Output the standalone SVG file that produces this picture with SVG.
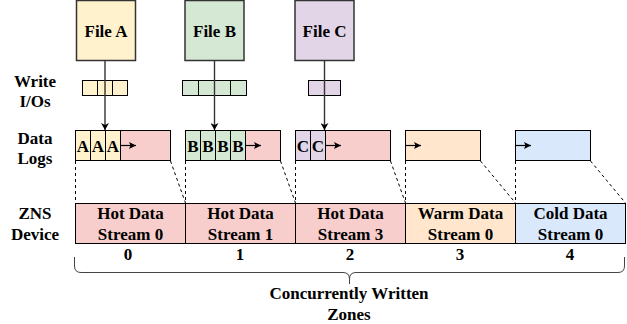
<svg xmlns="http://www.w3.org/2000/svg" width="627" height="324" viewBox="0 0 627 324">
  <style>
    text { font-family: "Liberation Serif", "Times New Roman", serif; font-weight: bold; font-size: 17px; fill: #000; text-anchor: middle; }
    .cell { stroke: #000; stroke-width: 1; }
    .file { stroke: #333; stroke-width: 1.5; }
    .ya { fill: #fff2cc; } .gr { fill: #d5e8d4; } .pu { fill: #e1d5e7; }
    .pk { fill: #f8cecc; } .or { fill: #ffe6cc; } .bl { fill: #dae8fc; }
    .dash { stroke: #000; stroke-width: 1; stroke-dasharray: 3 3; fill: none; }
    .flow { stroke: #333; stroke-width: 1.4; fill: none; }
    .push { stroke: #000; stroke-width: 1.2; fill: none; }
  </style>
  <defs>
    <marker id="head" markerWidth="8" markerHeight="8" refX="7" refY="4" orient="auto" markerUnits="userSpaceOnUse">
      <path d="M0,0 L7,4 L0,8 L2,4 Z" fill="#000"/>
    </marker>
    <marker id="small" markerWidth="8" markerHeight="8" refX="7" refY="4" orient="auto" markerUnits="userSpaceOnUse">
      <path d="M0,0.5 L7,4 L0,7.5 L1.5,4 Z" fill="#000"/>
    </marker>
  </defs>

  <!-- row labels -->
  <g id="row-labels">
    <text x="35" y="87">Write</text>
    <text x="35" y="107">I/Os</text>
    <text x="35" y="144">Data</text>
    <text x="35" y="164">Logs</text>
    <text x="35" y="219">ZNS</text>
    <text x="35" y="240">Device</text>
  </g>

  <!-- files -->
  <g id="file-a">
    <rect class="file ya" x="76.5" y="0.5" width="59" height="60"/>
    <text x="106" y="37">File A</text>
  </g>
  <g id="file-b">
    <rect class="file gr" x="185" y="0.5" width="59" height="60"/>
    <text x="214.5" y="37">File B</text>
  </g>
  <g id="file-c">
    <rect class="file pu" x="295" y="0.5" width="59" height="60"/>
    <text x="324.5" y="37">File C</text>
  </g>

  <!-- write I/Os -->
  <g id="writes-a">
    <rect class="cell ya" x="82.5" y="80.5" width="15" height="15"/>
    <rect class="cell ya" x="97.5" y="80.5" width="15" height="15"/>
    <rect class="cell ya" x="112.5" y="80.5" width="15" height="15"/>
  </g>
  <g id="writes-b">
    <rect class="cell gr" x="182.5" y="80.5" width="16" height="15"/>
    <rect class="cell gr" x="198.5" y="80.5" width="16" height="15"/>
    <rect class="cell gr" x="214.5" y="80.5" width="16" height="15"/>
    <rect class="cell gr" x="230.5" y="80.5" width="16" height="15"/>
  </g>
  <g id="writes-c">
    <rect class="cell pu" x="308.5" y="80.5" width="16" height="15"/>
    <rect class="cell pu" x="324.5" y="80.5" width="16" height="15"/>
  </g>

  <!-- data logs -->
  <g id="log-a">
    <rect class="cell pk" x="75.5" y="130.5" width="95" height="30"/>
    <rect class="cell ya" x="75.5" y="130.5" width="15" height="30"/>
    <rect class="cell ya" x="90.5" y="130.5" width="15" height="30"/>
    <rect class="cell ya" x="105.5" y="130.5" width="15" height="30"/>
    <text x="83" y="152">A</text>
    <text x="98" y="152">A</text>
    <text x="113" y="152">A</text>
    <line class="push" x1="120.5" y1="145.5" x2="136" y2="145.5" marker-end="url(#small)"/>
  </g>
  <g id="log-b">
    <rect class="cell pk" x="185.5" y="130.5" width="95" height="30"/>
    <rect class="cell gr" x="185.5" y="130.5" width="15" height="30"/>
    <rect class="cell gr" x="200.5" y="130.5" width="15" height="30"/>
    <rect class="cell gr" x="215.5" y="130.5" width="15" height="30"/>
    <rect class="cell gr" x="230.5" y="130.5" width="15" height="30"/>
    <text x="193" y="152">B</text>
    <text x="208" y="152">B</text>
    <text x="223" y="152">B</text>
    <text x="238" y="152">B</text>
    <line class="push" x1="245.5" y1="145.5" x2="261" y2="145.5" marker-end="url(#small)"/>
  </g>
  <g id="log-c">
    <rect class="cell pk" x="295.5" y="130.5" width="95" height="30"/>
    <rect class="cell pu" x="295.5" y="130.5" width="15" height="30"/>
    <rect class="cell pu" x="310.5" y="130.5" width="15" height="30"/>
    <text x="303" y="152">C</text>
    <text x="318" y="152">C</text>
    <line class="push" x1="325.5" y1="145.5" x2="341" y2="145.5" marker-end="url(#small)"/>
  </g>
  <g id="log-warm">
    <rect class="cell or" x="405.5" y="130.5" width="75" height="30"/>
    <line class="push" x1="405.5" y1="145.5" x2="421" y2="145.5" marker-end="url(#small)"/>
  </g>
  <g id="log-cold">
    <rect class="cell bl" x="515.5" y="130.5" width="75" height="30"/>
    <line class="push" x1="515.5" y1="145.5" x2="531" y2="145.5" marker-end="url(#small)"/>
  </g>

  <!-- zones -->
  <g id="zone-0">
    <rect class="cell pk" x="75.5" y="203.5" width="110" height="40"/>
    <text x="130.5" y="219">Hot Data</text>
    <text x="130.5" y="240">Stream 0</text>
    <text x="128" y="260">0</text>
  </g>
  <g id="zone-1">
    <rect class="cell pk" x="185.5" y="203.5" width="110" height="40"/>
    <text x="240.5" y="219">Hot Data</text>
    <text x="240.5" y="240">Stream 1</text>
    <text x="240" y="260">1</text>
  </g>
  <g id="zone-2">
    <rect class="cell pk" x="295.5" y="203.5" width="110" height="40"/>
    <text x="350.5" y="219">Hot Data</text>
    <text x="350.5" y="240">Stream 3</text>
    <text x="350" y="260">2</text>
  </g>
  <g id="zone-3">
    <rect class="cell or" x="405.5" y="203.5" width="110" height="40"/>
    <text x="460.5" y="219">Warm Data</text>
    <text x="460.5" y="240">Stream 0</text>
    <text x="460" y="260">3</text>
  </g>
  <g id="zone-4">
    <rect class="cell bl" x="515.5" y="203.5" width="110" height="40"/>
    <text x="570.5" y="219">Cold Data</text>
    <text x="570.5" y="240">Stream 0</text>
    <text x="570" y="260">4</text>
  </g>

  <!-- connectors -->
  <g id="connectors">
    <line class="flow" x1="105" y1="61" x2="105" y2="130" marker-end="url(#head)"/>
    <line class="flow" x1="214.5" y1="61" x2="214.5" y2="130" marker-end="url(#head)"/>
    <line class="flow" x1="324.5" y1="61" x2="324.5" y2="130" marker-end="url(#head)"/>

    <path class="dash" d="M75.5,161 V203 M170.5,161 L185.5,203"/>
    <path class="dash" d="M185.5,161 V203 M280.5,161 L295.5,203"/>
    <path class="dash" d="M295.5,161 V203 M390.5,161 L405.5,203"/>
    <path class="dash" d="M405.5,161 V203 M480.5,161 L515.5,203"/>
    <path class="dash" d="M515.5,161 V203 M590.5,161 L625.5,203"/>
  </g>

  <!-- brace over zones -->
  <g id="zones-brace">
    <path d="M74.5,257 V266 Q74.5,272.5 81,272.5 H343 Q349.5,272.5 349.5,279 V284 M349.5,279 Q349.5,272.5 356,272.5 H618 Q624.5,272.5 624.5,266 V257" fill="none" stroke="#444" stroke-width="1"/>
    <text x="349" y="299">Concurrently Written</text>
    <text x="349" y="320">Zones</text>
  </g>
</svg>
